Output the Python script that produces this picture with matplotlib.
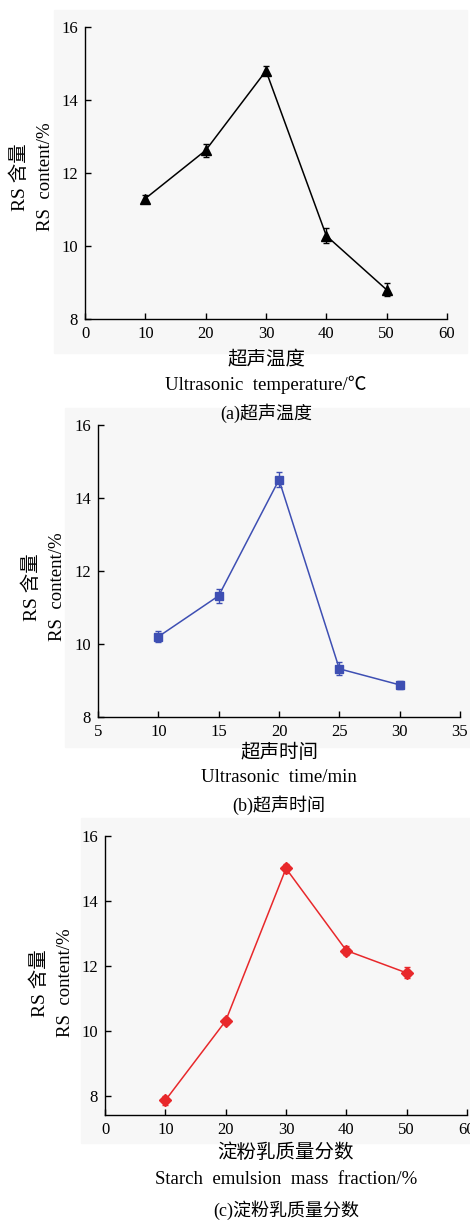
import matplotlib.pyplot as plt
from matplotlib.patches import Rectangle

plt.rcParams['font.family'] = ['Liberation Serif', 'Noto Sans CJK SC']
plt.rcParams['axes.unicode_minus'] = False

W, H = 470, 1221

# panel (a) ultrasonic temperature
temp_x = [10, 20, 30, 40, 50]
temp_y = [11.3, 12.62, 14.8, 10.28, 8.8]
temp_err = [0.1, 0.18, 0.12, 0.2, 0.18]

# panel (b) ultrasonic time
time_x = [10, 15, 20, 25, 30]
time_y = [10.2, 11.32, 14.5, 9.32, 8.88]
time_err = [0.15, 0.2, 0.2, 0.18, 0.1]

# panel (c) starch emulsion mass fraction
frac_x = [10, 20, 30, 40, 50]
frac_y = [7.85, 10.3, 15.0, 12.47, 11.78]
frac_err = [0.15, 0.1, 0.15, 0.15, 0.17]

yticks = [8, 10, 12, 14, 16]

fig = plt.figure(figsize=(W / 100, H / 100), dpi=100)


def px(x, y):
    return x / W, 1 - y / H


def panel(box, bg, x, y, err, color, marker, ms, xlim, xticks, ylim,
          ylab_xy, xlab_y, xlab_cn, xlab_en, caption):
    l, t, r, b = box
    bl, bt, br, bb = bg
    fig.patches.append(Rectangle(px(bl, bb), (br - bl) / W, (bb - bt) / H,
                                 transform=fig.transFigure, color='#f7f7f7',
                                 zorder=-5))
    ax = fig.add_axes([l / W, 1 - b / H, (r - l) / W, (b - t) / H])
    ax.patch.set_alpha(0)
    ax.errorbar(x, y, yerr=err, color=color, marker=marker, ms=ms,
                lw=1.1, elinewidth=1.0, capsize=2.5, capthick=1.0)
    ax.set_xlim(*xlim)
    ax.set_ylim(*ylim)
    ax.set_xticks(xticks)
    ax.set_yticks(yticks)
    for s in ['top', 'right']:
        ax.spines[s].set_visible(False)
    for s in ['left', 'bottom']:
        ax.spines[s].set_linewidth(1.0)
    ax.tick_params(direction='in', length=4, width=1.0, labelsize=12,
                   pad=5)
    cx = (l + r) / 2
    fig.text(*px(ylab_xy[0], ylab_xy[2]), 'RS 含量', rotation=90,
             ha='center', va='center', fontsize=14)
    fig.text(*px(ylab_xy[1], ylab_xy[2]), 'RS  content/%', rotation=90,
             ha='center', va='center', fontsize=13.5)
    fig.text(*px(cx, xlab_y[0]), xlab_cn, ha='center', va='center',
             fontsize=14)
    fig.text(*px(cx, xlab_y[1]), xlab_en, ha='center', va='center',
             fontsize=13.5)
    fig.text(*px(cx, xlab_y[2]), caption, ha='center', va='center',
             fontsize=13)


panel((85, 27, 447, 319), (54, 10, 467, 353), temp_x, temp_y, temp_err,
      'black', '^', 7.5, (0, 60), [0, 10, 20, 30, 40, 50, 60], (8, 16),
      (20, 45, 177), (359, 385, 413),
      '超声温度', 'Ultrasonic  temperature/℃', '(a)超声温度')

panel((98, 425, 460, 717), (65, 408, 470, 747), time_x, time_y, time_err,
      '#3e4fb3', 's', 6, (5, 35), [5, 10, 15, 20, 25, 30, 35], (8, 16),
      (32, 57, 587), (753, 778, 805),
      '超声时间', 'Ultrasonic  time/min', '(b)超声时间')

panel((105, 836, 467, 1115), (81, 818, 470, 1143), frac_x, frac_y, frac_err,
      '#e8282b', 'D', 6, (0, 60), [0, 10, 20, 30, 40, 50, 60], (7.4, 16),
      (40, 65, 983), (1153, 1180, 1210),
      '淀粉乳质量分数', 'Starch  emulsion  mass  fraction/%', '(c)淀粉乳质量分数')

fig.savefig('out.png', dpi=100)
